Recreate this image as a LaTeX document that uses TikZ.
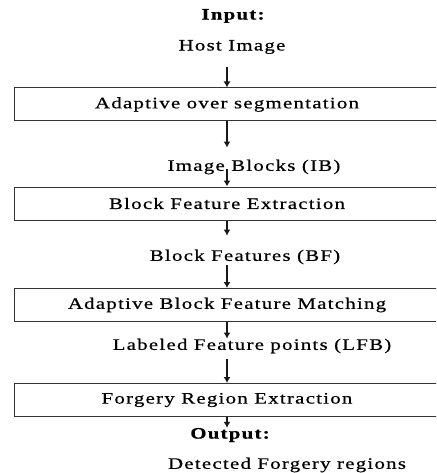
\documentclass[tikz,border=0pt]{standalone}
\usepackage{fontspec}
\setmainfont{Liberation Serif}[FakeStretch=1.3,LetterSpace=8,FakeBold=0.6]
\usetikzlibrary{arrows.meta}
\usetikzlibrary{calc}
\tikzstyle{stage}=[draw=black!80,line width=1pt,rectangle,minimum width=426pt,minimum height=33pt,inner sep=0pt,font=\fontsize{16}{18}\selectfont]
\tikzstyle{label}=[inner sep=0pt,font=\fontsize{16}{18}\selectfont]
\tikzstyle{heading}=[inner sep=0pt,font=\fontsize{16}{18}\selectfont\bfseries]
\tikzstyle{flow} = [draw,line width=1.1pt,-{Latex[length=6pt,width=7pt]},black!90]

\begin{document}
\begin{tikzpicture}[x=1pt,y=-1pt]
    \clip (0,0) rectangle (436,473);
    \fill[white] (0,0) rectangle (436,473);

    \node[heading] (input) at (233,16) {Input:};
    \node[label] (host) at (232,47) {Host Image};

    \foreach \pos/\name/\text in {{(227,104.5)/aos/Adaptive over segmentation}, {(227,203.5)/bfe/Block Feature Extraction}, {(227,305)/abfm/Adaptive Block Feature Matching}, {(227,400)/fre/Forgery Region Extraction}}
        \node[stage] (\name) at \pos {\text};

    \node[label] (ib) at (254,167) {Image Blocks (IB)};
    \node[label] (bf) at (245,257) {Block Features (BF)};
    \node[label] (lfb) at (252,346) {Labeled Feature points (LFB)};
    \node[heading] (output) at (230,435) {Output:};
    \node[label] (detected) at (287,465) {Detected Forgery regions};

    \path[flow,shorten <=13pt] (host.south -| aos.north) -- (aos.north);
    \path[flow,shorten >=12pt] (aos.south) -- (aos.south |- ib.north);
    \path[flow,shorten <=-5pt] (ib.south -| bfe.north) -- (bfe.north);
    \path[flow,shorten >=14pt] (bfe.south) -- (bfe.south |- bf.north);
    \path[flow,shorten <=1pt] (bf.south -| abfm.north) -- (abfm.north);
    \path[flow] (abfm.south) -- (abfm.south |- lfb.north);
    \path[flow,shorten <=6pt] (lfb.south -| fre.north) -- (fre.north);
    \path[flow] (fre.south) -- (fre.south |- output.north);

\end{tikzpicture}
\end{document}
